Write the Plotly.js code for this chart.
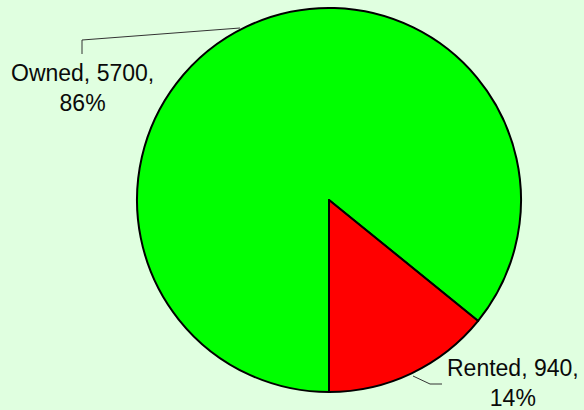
<!DOCTYPE html>
<html>
<head>
<meta charset="utf-8">
<script src="https://cdn.plot.ly/plotly-3.0.1.min.js"></script>
<style>html,body{margin:0;padding:0;background:#e0ffe0;}#chart{width:584px;height:410px;}</style>
</head>
<body>
<div id="chart"></div>
<script>
const categories = ["Owned", "Rented"];
const values = [5700, 940];
const colors = ["#00ff00", "#ff0000"];

const W = 584, H = 410;
const px = x => x / W;
const py = y => 1 - y / H;
const total = values.reduce((a, b) => a + b, 0);
const labelText = categories.map((c, i) => c + ", " + values[i] + ",<br>" + Math.round(values[i] / total * 100) + "%");

const trace = {
  type: "pie",
  labels: categories,
  values: values,
  sort: false,
  direction: "clockwise",
  rotation: 180,
  textinfo: "none",
  hoverinfo: "label+value+percent",
  marker: {colors: colors, line: {color: "#000000", width: 2}},
  domain: {x: [px(137), px(521)], y: [py(392), py(8)]},
  showlegend: false
};

const font = {family: "Liberation Sans, Arial, sans-serif", size: 23, color: "#0a0a0a"};

const layout = {
  width: W, height: H,
  margin: {l: 0, r: 0, t: 0, b: 0},
  paper_bgcolor: "#e0ffe0",
  plot_bgcolor: "#e0ffe0",
  showlegend: false,
  annotations: [
    {xref: "paper", yref: "paper", x: px(82), y: py(88), xanchor: "center", yanchor: "middle",
     text: labelText[0], showarrow: false, font: font, align: "center", borderpad: 0},
    {xref: "paper", yref: "paper", x: px(513), y: py(383), xanchor: "center", yanchor: "middle",
     text: labelText[1], showarrow: false, font: font, align: "center", borderpad: 0}
  ],
  shapes: [
    {type: "path", xref: "paper", yref: "paper",
     path: "M " + px(240) + " " + py(28) + " L " + px(82) + " " + py(40) + " L " + px(82) + " " + py(54),
     line: {color: "#333333", width: 1}},
    {type: "path", xref: "paper", yref: "paper",
     path: "M " + px(413) + " " + py(376) + " L " + px(430) + " " + py(384) + " L " + px(442) + " " + py(384),
     line: {color: "#333333", width: 1}}
  ]
};

Plotly.newPlot("chart", [trace], layout, {displayModeBar: false, staticPlot: true});
</script>
</body>
</html>
